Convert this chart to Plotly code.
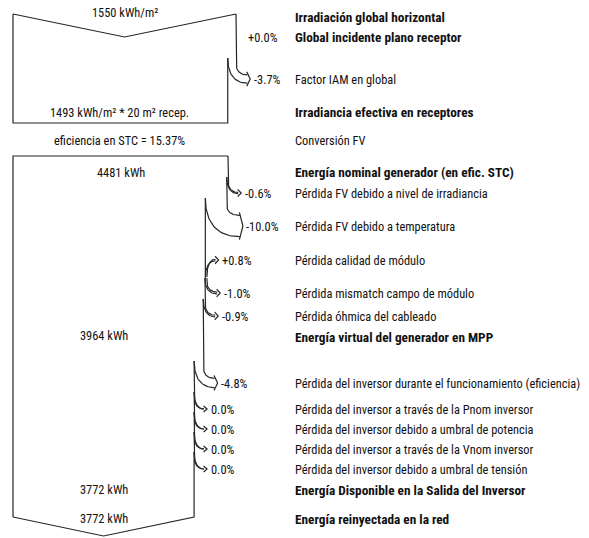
import numpy as np
import plotly.graph_objects as go

# ---------------- data ----------------
irr_steps = ["Irradiación global horizontal", "Global incidente plano receptor",
             "Factor IAM en global", "Irradiancia efectiva en receptores"]
irr_bold = [True, True, False, True]
irr_pct = [None, 0.0, -3.7, None]
irr_pct_text = [None, "+0.0%", "-3.7%", None]
ghi_kwh_m2 = 1550
eff_irr_kwh_m2 = 1493
collector_area_m2 = 20
stc_efficiency_pct = 15.37
conversion_label = "Conversión FV"

pv_steps = ["Energía nominal generador (en efic. STC)",
            "Pérdida FV debido a nivel de irradiancia",
            "Pérdida FV debido a temperatura",
            "Pérdida calidad de módulo",
            "Pérdida mismatch campo de módulo",
            "Pérdida óhmica del cableado",
            "Energía virtual del generador en MPP"]
pv_bold = [True, False, False, False, False, False, True]
pv_pct = [None, -0.6, -10.0, 0.8, -1.0, -0.9, None]
pv_pct_text = [None, "-0.6%", "-10.0%", "+0.8%", "-1.0%", "-0.9%", None]

inv_steps = ["Pérdida del inversor durante el funcionamiento (eficiencia)",
             "Pérdida del inversor a través de la Pnom inversor",
             "Pérdida del inversor debido a umbral de potencia",
             "Pérdida del inversor a través de la Vnom inversor",
             "Pérdida del inversor debido a umbral de tensión",
             "Energía Disponible en la Salida del Inversor",
             "Energía reinyectada en la red"]
inv_bold = [False, False, False, False, False, True, True]
inv_pct = [-4.8, 0.0, 0.0, 0.0, 0.0, None, None]
inv_pct_text = ["-4.8%", "0.0%", "0.0%", "0.0%", "0.0%", None, None]

e_nominal_kwh = 4481
e_mpp_kwh = 3964
e_inv_out_kwh = 3772
e_grid_kwh = 3772

# ---------------- layout constants (pixels) ----------------
W, H = 589, 538
X0 = 13
BOX1_W = 223          # width representing ghi
BOX2_W = 215          # width representing nominal energy
LABEL_X = 293
BOX1_TOP, BOX1_VDEPTH, BOX1_BOTTOM = 14, 23, 123
BOX2_TOP, BOX2_BOTTOM, BOX2_VDEPTH = 156, 517, 19
irr_row_y = [17, 37, 79, 112]
conv_y = 140
pv_row_y = [172, 193, 226, 260, 293, 316, 337]
inv_row_y = [383, 409, 429, 449, 469, 490, 519]
irr_lead = [None, None, 21, None]
pv_lead = [None, 16, 28, -18, 15, 17, None]
inv_lead = [22, 17, 17, 17, 17, None, None]
FONT = "Roboto Condensed, Archivo Narrow, sans-serif"
FS = 12.4
FS_BOLD = 13.3
LINE = "#262626"

xs, ys = [], []


def seg(pts):
    for p in pts:
        xs.append(p[0]); ys.append(p[1])
    xs.append(None); ys.append(None)


def bez(a, b):
    (xa, ya), (xb, yb) = a, b
    t = np.linspace(0, 1, 30)
    p0 = np.array([xa, ya]); p1 = np.array([xa, ya + 0.65 * (yb - ya)])
    p2 = np.array([xa + 0.35 * (xb - xa), yb]); p3 = np.array([xb, yb])
    pts = ((1 - t) ** 3)[:, None] * p0 + (3 * (1 - t) ** 2 * t)[:, None] * p1 \
        + (3 * (1 - t) * t ** 2)[:, None] * p2 + (t ** 3)[:, None] * p3
    return [tuple(p) for p in pts]


annotations = []


def text(x, y, s, anchor="left", bold=False):
    annotations.append(dict(x=x, y=y, xref="x", yref="y", text=("<b>%s</b>" % s) if bold else s,
                            showarrow=False, xanchor=anchor, yanchor="middle",
                            font=dict(family=FONT, size=FS_BOLD if bold else FS, color="#111")))


def flow(edge_x, top_y, width_px, pct, y_lab, lead, label):
    """Draw a loss/gain arrow leaving the right edge; return new edge x and top y."""
    w = abs(width_px * pct / 100.0)
    tip = edge_x + 13 + 0.15 * w
    if lead > 0:  # loss, curve downward
        ys_ = y_lab - lead
        new_x = edge_x - w
        seg([(edge_x, top_y), (edge_x, ys_ + lead * 0.25)] + bez((edge_x, ys_ + lead * 0.25), (tip - 3, y_lab - w / 2)))
        seg(bez((new_x, ys_), (tip - 3, y_lab + w / 2)))
    else:  # gain, curve upward
        ys_ = y_lab - lead
        new_x = edge_x + w
        seg([(edge_x, top_y), (edge_x, ys_)] + bez((edge_x, ys_), (tip - 3, y_lab + w / 2)))
        seg(bez((new_x, ys_ - 1), (tip - 3, y_lab - w / 2)))
    seg([(tip - 3.5, y_lab - w / 2 - 3), (tip, y_lab), (tip - 3.5, y_lab + w / 2 + 3)])
    text(tip + 1.5, y_lab, label)
    return new_x, ys_


# ---------------- box 1 (irradiation) ----------------
x1_right = X0 + BOX1_W
seg([(X0, BOX1_TOP), (X0 + BOX1_W / 2, BOX1_TOP + BOX1_VDEPTH), (x1_right, BOX1_TOP)])
edge, top = x1_right, BOX1_TOP
cur_w = BOX1_W
for lab, b, p, pt, y, ld in zip(irr_steps, irr_bold, irr_pct, irr_pct_text, irr_row_y, irr_lead):
    text(LABEL_X, y, lab, bold=b)
    if p is None:
        continue
    if p == 0:
        text(edge + 10, y, pt)
        continue
    edge, top = flow(edge, top, cur_w, p, y, ld, pt)
    cur_w *= (1 + p / 100.0)
seg([(edge, top), (edge, BOX1_BOTTOM), (X0, BOX1_BOTTOM), (X0, BOX1_TOP)])
text(X0 + BOX1_W / 2, 12, "%d kWh/m²" % ghi_kwh_m2, anchor="center")
text((X0 + edge) / 2 - 1, BOX1_BOTTOM - 11,
     "%d kWh/m² * %d m² recep." % (eff_irr_kwh_m2, collector_area_m2), anchor="center")
text((X0 + edge) / 2 - 1, conv_y, "eficiencia en STC = %.2f%%" % stc_efficiency_pct, anchor="center")
text(LABEL_X, conv_y, conversion_label)

# ---------------- box 2 (energy) ----------------
x2_right = X0 + BOX2_W
seg([(X0, BOX2_BOTTOM), (X0, BOX2_TOP), (x2_right, BOX2_TOP)])
edge, top = x2_right, BOX2_TOP
cur_w = BOX2_W
text((X0 + edge) / 2, pv_row_y[0], "%d kWh" % e_nominal_kwh, anchor="center")
for lab, b, p, pt, y, ld in zip(pv_steps, pv_bold, pv_pct, pv_pct_text, pv_row_y, pv_lead):
    text(LABEL_X, y, lab, bold=b)
    if p is None:
        continue
    edge, top = flow(edge, top, cur_w, p, y, ld, pt)
    cur_w *= (1 + p / 100.0)
text((X0 + edge) / 2 - 4, pv_row_y[-1] - 2, "%d kWh" % e_mpp_kwh, anchor="center")
for lab, b, p, pt, y, ld in zip(inv_steps, inv_bold, inv_pct, inv_pct_text, inv_row_y, inv_lead):
    text(LABEL_X, y, lab, bold=b)
    if p is None:
        continue
    edge, top = flow(edge, top, cur_w, p, y, ld, pt)
    cur_w *= (1 + p / 100.0)
seg([(edge, top), (edge, BOX2_BOTTOM), ((X0 + edge) / 2, BOX2_BOTTOM + BOX2_VDEPTH), (X0, BOX2_BOTTOM)])
text((X0 + edge) / 2, inv_row_y[-2] - 1, "%d kWh" % e_inv_out_kwh, anchor="center")
text((X0 + edge) / 2, inv_row_y[-1] - 1, "%d kWh" % e_grid_kwh, anchor="center")

fig = go.Figure(go.Scatter(x=xs, y=ys, mode="lines", line=dict(color=LINE, width=1.2),
                           hoverinfo="skip", showlegend=False))
fig.update_layout(
    width=W, height=H, autosize=False, margin=dict(l=0, r=0, t=0, b=0),
    paper_bgcolor="white", plot_bgcolor="white",
    xaxis=dict(range=[0, W], visible=False, fixedrange=True),
    yaxis=dict(range=[H, 0], visible=False, fixedrange=True),
    annotations=annotations,
)
fig.write_html("out.html", config={"displayModeBar": False},
               post_script="document.body.style.margin='0px';document.body.style.overflow='hidden';")
